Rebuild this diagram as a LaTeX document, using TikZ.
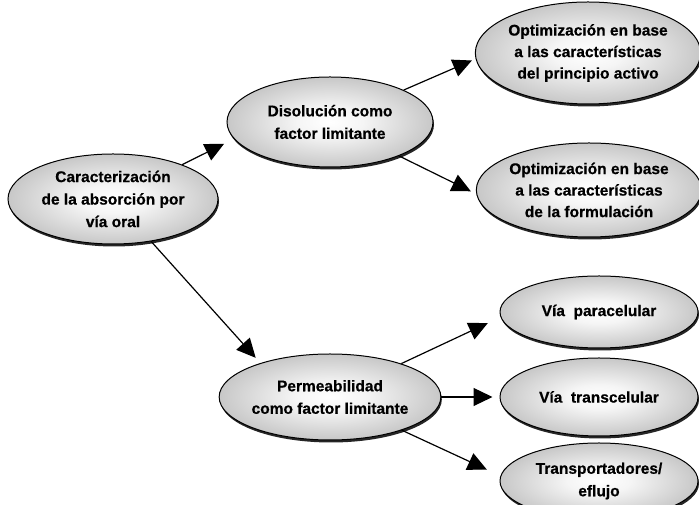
\documentclass[tikz,border=0pt]{standalone}
\usepackage{fontspec}
\setmainfont{Liberation Sans}[BoldFeatures={FakeBold=0.6}]
\usetikzlibrary{shapes.geometric,arrows.meta,shadows}
% light centre fading to mid grey at the rim
\pgfdeclareradialshading{ovalshade}{\pgfpoint{0bp}{0bp}}{color(0bp)=(white); color(8bp)=(white!96!black); color(50bp)=(black!48); color(60bp)=(black!48)}

\begin{document}
\begin{tikzpicture}[x=1pt,y=1pt,
  oval/.style={ellipse, draw=black, line width=1pt, shading=ovalshade,
    inner sep=0pt, align=center,
    font=\fontsize{15.5}{22.5}\selectfont\bfseries,
    drop shadow={shadow xshift=1pt, shadow yshift=-2.5pt, fill=black, opacity=0.85}},
  tight/.style={font=\fontsize{15.5}{21.5}\selectfont\bfseries},
  link/.style={line width=1.2pt, -{Triangle[length=19pt,width=18pt]}}]
\useasboundingbox (0,0) rectangle (699,505);

% nodes
\node[oval, minimum width=210pt, minimum height=90pt] (oral) at (113,306)
  {Caracterización\\de la absorción por\\vía oral};
\node[oval, minimum width=206pt, minimum height=90pt] (disol) at (330,383)
  {Disolución como\\factor limitante};
\node[oval, tight, minimum width=216pt, minimum height=102pt] (optpa) at (588,452)
  {Optimización en base\\a las características\\del principio activo};
\node[oval, tight, minimum width=214pt, minimum height=94pt] (optfo) at (589,315)
  {Optimización en base\\a las características\\de la formulación};
\node[oval, minimum width=206pt, minimum height=86pt] (perm) at (330,108)
  {Permeabilidad\\como factor limitante};
\node[oval, minimum width=198pt, minimum height=72pt] (para) at (599,193)
  {Vía~~paracelular};
\node[oval, minimum width=198pt, minimum height=78pt] (trans) at (599,108)
  {Vía~~transcelular};
\node[oval, minimum width=198pt, minimum height=76pt] (efl) at (599,24)
  {Transportadores/\\eflujo};

% connectors
\draw[link, shorten >=11pt] (oral) -- (disol.190);
\draw[link, shorten >=7pt] (oral) -- (perm.154);
\draw[link, shorten >=4pt] (disol) -- (optpa.183);
\draw[link, shorten >=6pt] (disol) -- (optfo.182);
\draw[link, shorten >=14pt] (perm) -- (para.183);
\draw[link, shorten >=7pt] (perm) -- (trans);
\draw[link, shorten >=15pt] (perm) -- (efl.177);
\end{tikzpicture}
\end{document}
